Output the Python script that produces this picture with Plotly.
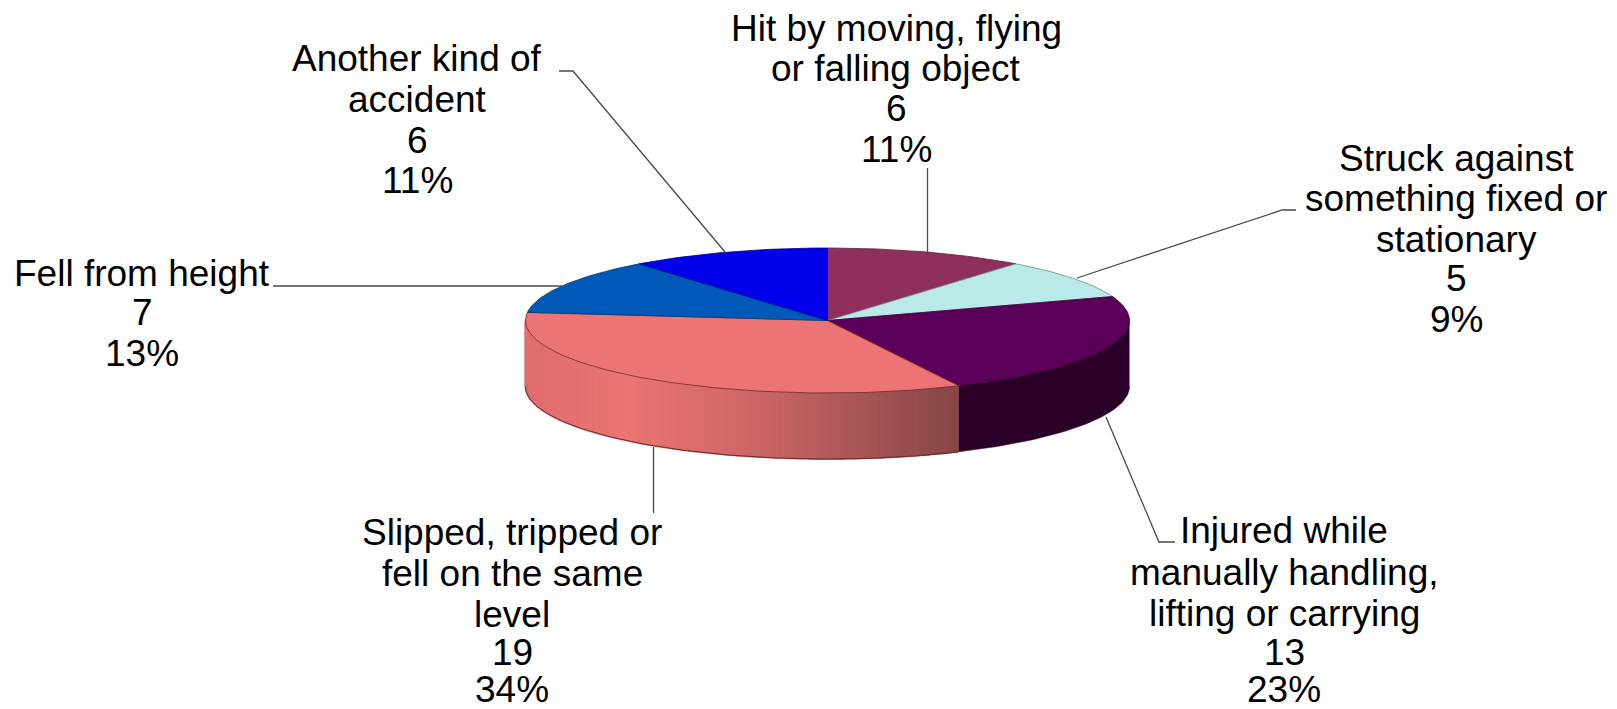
import math
import plotly.graph_objects as go

# --- data ---
categories = [
    ["Hit by moving, flying", "or falling object"],
    ["Struck against", "something fixed or", "stationary"],
    ["Injured while", "manually handling,", "lifting or carrying"],
    ["Slipped, tripped or", "fell on the same", "level"],
    ["Fell from height"],
    ["Another kind of", "accident"],
]
counts = [6, 5, 13, 19, 7, 6]
percent_labels = ["11%", "9%", "23%", "34%", "13%", "11%"]

# --- styling ---
top_colors = ["#8E2F5E", "#B9E9E9", "#5A0059", "#EC7474", "#0058B8", "#0000EA"]
outline_colors = ["#5A2040", "#6F8C8C", "#38003A", "#6E2A2A", "#003A78", "#00009A"]
wall_color_injured = "#2A0029"
wall_stops = [(525, (222, 110, 110)), (630, (235, 116, 116)), (770, (200, 100, 100)), (958, (134, 70, 70))]

# layout of the drawing, in axis units (axes run in page pixels)
CX, CY, RX, RY, DEPTH = 827.5, 320.5, 302, 72.5, 66
FONT = dict(family="Liberation Sans, Arial, sans-serif", size=37, color="#000000")

label_x = [896, 1456, 1284, 512, 142, 417]
label_line_y = [
    [28, 68, 108, 149],
    [158, 198, 239, 278, 319],
    [530, 572, 613, 652, 689],
    [532, 573, 614, 652, 689],
    [273, 312, 353],
    [58, 99, 140, 180],
]
leaders = [
    ([927.5, 927.5], [168, 252]),
    ([1296, 1282, 1077], [210, 210, 278]),
    ([1106, 1159, 1175], [417, 542, 542]),
    ([653.5, 653.5], [447, 513]),
    ([273, 562], [286, 286]),
    ([559, 573, 725], [71, 71, 252]),
]


def ellipse(theta_deg, dy=0.0):
    t = math.radians(theta_deg)
    return CX + RX * math.sin(t), CY - RY * math.cos(t) + dy


def arc(a, b, dy=0.0, step=1.0):
    n = max(2, int(abs(b - a) / step) + 1)
    pts = [ellipse(a + (b - a) * i / (n - 1), dy) for i in range(n)]
    return [p[0] for p in pts], [p[1] for p in pts]


def wall_rgb(x):
    if x <= wall_stops[0][0]:
        return wall_stops[0][1]
    for (x0, c0), (x1, c1) in zip(wall_stops, wall_stops[1:]):
        if x <= x1:
            f = (x - x0) / (x1 - x0)
            return tuple(round(c0[i] + (c1[i] - c0[i]) * f) for i in range(3))
    return wall_stops[-1][1]


total = sum(counts)
edges = [0.0]
for c in counts:
    edges.append(edges[-1] + 360.0 * c / total)

fig = go.Figure()


def add_poly(xs, ys, fill, line_color, width):
    fig.add_trace(go.Scatter(
        x=xs, y=ys, mode="lines", fill="toself", fillcolor=fill,
        line=dict(color=line_color, width=width), hoverinfo="skip", showlegend=False,
    ))


# side wall: only the front half (90..270 degrees clockwise from top) shows
inj_a, inj_b = max(edges[2], 90), edges[3]
tx, ty = arc(inj_a, inj_b)
bx, by = arc(inj_b, inj_a, DEPTH)
add_poly(tx + bx, ty + by, wall_color_injured, wall_color_injured, 0.5)

sl_a, sl_b = edges[3], min(edges[4], 270)
band = 0.5
a = sl_a
while a < sl_b:
    b = min(a + band, sl_b)
    tx, ty = arc(a, b, 0, 0.5)
    bx, by = arc(b, a, DEPTH, 0.5)
    col = "rgb(%d,%d,%d)" % wall_rgb(ellipse((a + b) / 2)[0])
    add_poly(tx + bx, ty + by, col, col, 1.5)
    a = b

# outline of the lower rim
rim_x, rim_y = arc(edges[3], 270, DEPTH)
fig.add_trace(go.Scatter(x=rim_x, y=rim_y, mode="lines", line=dict(color="#6E2A2A", width=1),
                         hoverinfo="skip", showlegend=False))

# top face
for i in range(len(counts)):
    ax, ay = arc(edges[i], edges[i + 1])
    add_poly([CX] + ax + [CX], [CY] + ay + [CY], top_colors[i], outline_colors[i], 0.8)

# leader lines
for lx, ly in leaders:
    fig.add_trace(go.Scatter(x=lx, y=ly, mode="lines", line=dict(color="#4A4A4A", width=1.3),
                             hoverinfo="skip", showlegend=False))

# labels: every text line sits on its own so the line spacing follows the reference
annotations = []
for i, cat in enumerate(categories):
    lines = cat + [str(counts[i]), percent_labels[i]]
    for text, y in zip(lines, label_line_y[i]):
        annotations.append(dict(x=label_x[i], y=y, xref="x", yref="y", text=text, showarrow=False,
                                xanchor="center", yanchor="middle", font=FONT))

fig.update_layout(
    width=1617, height=709, autosize=False,
    margin=dict(l=0, r=0, t=0, b=0),
    paper_bgcolor="#FFFFFF", plot_bgcolor="#FFFFFF",
    xaxis=dict(range=[0, 1617], visible=False, fixedrange=True),
    yaxis=dict(range=[709, 0], visible=False, fixedrange=True),
    annotations=annotations, showlegend=False,
)
fig.write_html("out.html", config={"displayModeBar": False},
               post_script="document.body.style.margin='0';document.body.style.overflow='hidden';")
